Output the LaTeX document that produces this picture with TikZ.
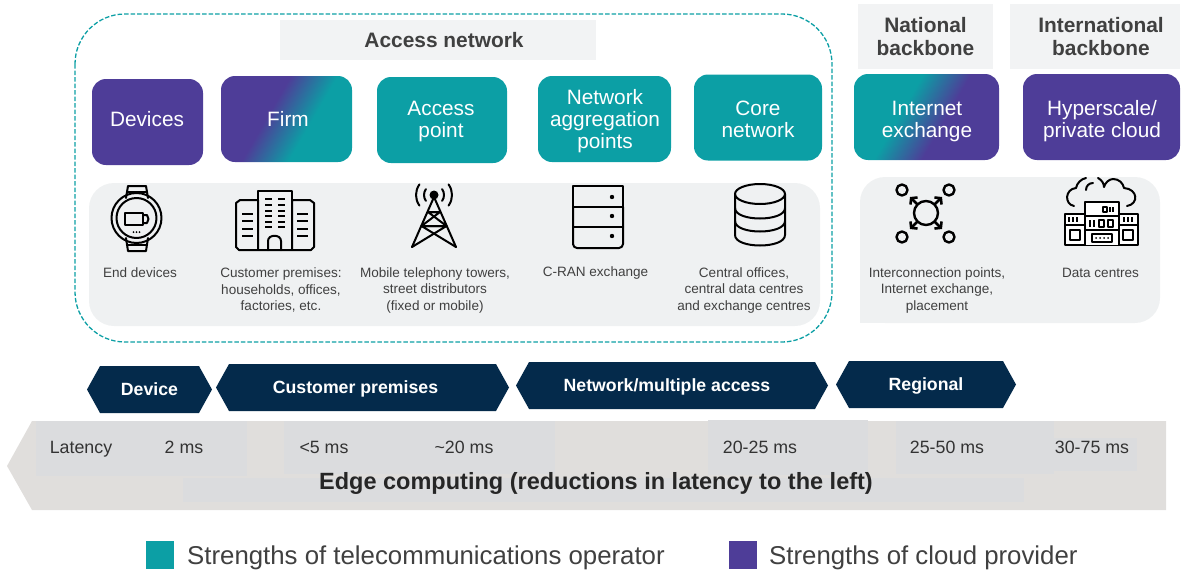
\documentclass[tikz,border=0pt]{standalone}
\usepackage{fontspec}
\setmainfont{Liberation Sans}
\usetikzlibrary{shapes.symbols,arrows.meta}

\definecolor{cloudpurple}{HTML}{4E3D98}
\definecolor{telcoteal}{HTML}{0C9FA5}
\definecolor{chevronnavy}{HTML}{042A4B}
\definecolor{panelgrey}{HTML}{EFF1F2}
\definecolor{titlegrey}{HTML}{F2F3F4}
\definecolor{bandgrey}{HTML}{E0DEDC}
\definecolor{patchgrey}{HTML}{DBDCDE}
\definecolor{labelgrey}{HTML}{404040}

\pgfdeclarehorizontalshading{firmshade}{100bp}{color(0bp)=(cloudpurple); color(42bp)=(cloudpurple); color(60bp)=(telcoteal); color(100bp)=(telcoteal)}
\pgfdeclarehorizontalshading{exchangeshade}{100bp}{color(0bp)=(telcoteal); color(40bp)=(telcoteal); color(57bp)=(cloudpurple); color(100bp)=(cloudpurple)}

\tikzset{
  stagebox/.style={rounded corners=14pt, inner sep=0pt, minimum height=86},
  stagetext/.style={text=white, align=center, font=\fontsize{20.8}{22}\selectfont},
  titlebox/.style={fill=titlegrey, inner sep=0pt, align=center, text=labelgrey, font=\bfseries\fontsize{20.9}{23}\selectfont},
  smalltext/.style={align=center, text=labelgrey, font=\fontsize{13.55}{16.5}\selectfont},
  latencytext/.style={anchor=base, text=black!80, font=\fontsize{17.8}{19}\selectfont},
  legendtext/.style={text=labelgrey, anchor=west, inner sep=0pt, font=\fontsize{25.8}{28}\selectfont},
  chevron/.style={signal, signal to=east and west, signal pointer angle=122, fill=chevronnavy, text=white, inner sep=0pt, minimum height=47, text height=14pt, text depth=2pt, font=\bfseries\fontsize{17.7}{19}\selectfont},
  icon/.style={draw=black, line width=2pt, line join=round, line cap=round},
  thinicon/.style={draw=black, line width=1.5pt, line join=round}
}

\begin{document}
\begin{tikzpicture}[x=1pt,y=-1pt]
\useasboundingbox (0,0) rectangle (1184,573);

\path[fill=panelgrey, rounded corners=25pt] (89,183) rectangle (820,326);
\path[fill=panelgrey, rounded corners=25pt] (860,323) -- (860,177) -- (1160,177) -- (1160,323) -- cycle;
\path[fill=panelgrey] (860,298) rectangle (890,323);
\draw[telcoteal, line width=1.3pt, dash pattern=on 4.5pt off 2pt, rounded corners=50pt] (75,14) rectangle (832,342);

\path (438,40) node[titlebox, minimum width=316, minimum height=40] (accesstitle) {\hspace*{12pt}Access network}
      (925.5,36.5) node[titlebox, minimum width=135, minimum height=65] (nationaltitle) {National\\backbone}
      (1095,36.5) node[titlebox, minimum width=170, minimum height=65] (internationaltitle) {\hspace*{12pt}International\\\hspace*{12pt}backbone}

      (147.5,122) node[stagebox, fill=cloudpurple, minimum width=111] (devices) {}
      (286.5,119) node[stagebox, shading=firmshade, shading angle=-30, minimum width=131] (firm) {}
      (442,120) node[stagebox, fill=telcoteal, minimum width=130] (accesspoint) {}
      (604.5,119) node[stagebox, fill=telcoteal, minimum width=133] (aggregation) {}
      (758,117.5) node[stagebox, fill=telcoteal, minimum width=128] (corenet) {}
      (926.5,117) node[stagebox, shading=exchangeshade, shading angle=-30, minimum width=145] (exchange) {}
      (1101.5,117) node[stagebox, fill=cloudpurple, minimum width=157] (cloudbox) {}

      (147,119) node[stagetext] (deviceslabel) {Devices}
      (288,119) node[stagetext] (firmlabel) {Firm}
      (441,122) node[stagetext] (accesspointlabel) {Access\\point}
      (605,121) node[stagetext] (aggregationlabel) {Network\\aggregation\\points}
      (758,119.5) node[stagetext] (corenetlabel) {Core\\network}
      (927,122) node[stagetext] (exchangelabel) {Internet\\exchange}
      (1102,121) node[stagetext] (cloudboxlabel) {Hyperscale/\\private cloud}

      (140,273) node[smalltext] (enddevices) {End devices}
      (281,290) node[smalltext] (premises) {Customer premises:\\households, offices,\\factories, etc.}
      (435,290) node[smalltext] (towers) {Mobile telephony towers,\\street distributors\\(fixed or mobile)}
      (595.5,273) node[smalltext] (cran) {C-RAN exchange}
      (744,290) node[smalltext] (offices) {Central offices,\\central data centres\\and exchange centres}
      (937,290) node[smalltext] (interconnect) {Interconnection points,\\Internet exchange,\\placement}
      (1100.5,273) node[smalltext] (datacentres) {Data centres};

\path (149.5,389.5) node[chevron, minimum width=125] (device) {Device}
      (362.5,387.5) node[chevron, minimum width=293] (customer) {Customer premises\hspace*{14pt}}
      (672,385.5) node[chevron, minimum width=312] (multiaccess) {Network/multiple access\hspace*{10pt}}
      (926,384.5) node[chevron, minimum width=180] (regional) {Regional};

\fill[bandgrey] (7,466) -- (32,421) -- (1166,421) -- (1166,510) -- (32,510) -- cycle;
\fill[patchgrey] (36,421) rectangle (247,476);
\fill[patchgrey] (284,421) rectangle (555,474);
\fill[patchgrey] (708,420) rectangle (868,475);
\fill[patchgrey] (896,421) rectangle (1054,474);
\fill[patchgrey] (1054,438) rectangle (1137,471);
\fill[patchgrey] (183,478) rectangle (1024,502);

\path (81,453) node[latencytext] (latency) {Latency}
      (184,453) node[latencytext] (twoms) {2 ms}
      (324,453) node[latencytext] (fivems) {<5 ms}
      (464,453) node[latencytext] (twentyms) {\char`\~20 ms}
      (760,453) node[latencytext] (accessms) {20-25 ms}
      (947,453) node[latencytext] (regionalms) {25-50 ms}
      (1092,453) node[latencytext] (backbonems) {30-75 ms}
      (596,483.5) node[font=\bfseries\fontsize{23.5}{25}\selectfont, text=black!85] (edge) {Edge computing (reductions in latency to the left)};

\path (160,555) node[fill=telcoteal, minimum width=28, minimum height=28, inner sep=0pt] (telcokey) {}
      (743,555) node[fill=cloudpurple, minimum width=28, minimum height=28, inner sep=0pt] (cloudkey) {}
      (187,558) node[legendtext] (telcotext) {Strengths of telecommunications operator}
      (769,558) node[legendtext] (cloudtext) {Strengths of cloud provider};

\draw[icon] (136.5,218) circle (25);
\draw[icon] (136.5,218) circle (20);
\draw[icon] (126,198) -- (128,186) -- (146,186) -- (148,198);
\draw[thinicon] (126,192) -- (148,192);
\draw[icon] (126,238) -- (128,251) -- (146,251) -- (148,238);
\draw[thinicon] (126,245) -- (148,245);
\draw[icon] (125,213) rectangle (143,225);
\draw[icon] (143,215) -- (147,215) -- (148.5,219) -- (147,223) -- (143,223);
\foreach \x in {133.5,136.5,139.5} \fill (\x,232) circle (1);

\draw[icon] (258,250) -- (258,200) -- (240,200) -- (236,203) -- (236,247) -- (239,250) -- (311,250) -- (314,247) -- (314,203) -- (310,200) -- (292,200) -- (292,250);
\draw[icon] (258,200) -- (258,191) -- (292,191) -- (292,200);
\draw[icon] (268,250) -- (268,241) .. controls (268,234) and (281,234) .. (281,241) -- (281,250);
\foreach \y in {199,205,211,216,222,227} {
  \draw[line width=2pt] (265,\y) -- (272,\y);
  \draw[line width=2pt] (278,\y) -- (285,\y);
}
\foreach \y in {214,221,229,236} {
  \draw[line width=2pt] (242,\y) -- (253,\y);
  \draw[line width=2pt] (297,\y) -- (308,\y);
}

\fill (434,195) circle (4.5);
\foreach \r in {10,18} {
  \draw[icon] ([shift={(-36:\r)}]434,195) arc[start angle=-36, end angle=36, radius=\r];
  \draw[icon] ([shift={(144:\r)}]434,195) arc[start angle=144, end angle=216, radius=\r];
}
\draw[icon] (412,247) -- (434,197) -- (456,247);
\draw[icon] (428,212) -- (440,212) -- (421.5,226) -- (446.5,226) -- (412,247);
\draw[icon] (440,212) -- (428,212) -- (446.5,226) -- (421.5,226) -- (456,247);

\draw[icon, rounded corners=4pt] (573,207) -- (573,248) -- (623,248) -- (623,207);
\draw[icon] (573,207) -- (573,186) -- (623,186) -- (623,207) -- cycle;
\draw[icon] (573,227) -- (623,227);
\foreach \y in {197,216,236} \fill (612,\y) circle (2.2);

\draw[icon] (760,194) ellipse (25 and 10);
\draw[icon] (735,194) -- (735,235) .. controls (735,249) and (785,249) .. (785,235) -- (785,194);
\draw[icon] (735,208) .. controls (735,222) and (785,222) .. (785,208);
\draw[icon] (735,221) .. controls (735,235) and (785,235) .. (785,221);

\draw[icon, line width=2.4pt] (926,213) circle (12);
\foreach \x/\y/\a/\b/\c/\d in {902/190/917/204/910/197, 949/190/935/204/942/197, 902/237/917/222/910/229, 949/237/935/222/942/229} {
  \draw[icon, line width=2.4pt] (\x,\y) circle (5.5);
  \draw[icon, line width=2.6pt, -{Straight Barb[length=4pt, width=10pt]}] (\a,\b) -- (\c,\d);
}

\draw[icon] (1074,206) .. controls (1064,204) and (1065,189) .. (1076,188) .. controls (1077,183) and (1081,179) .. (1086,178);
\draw[icon] (1086,190) .. controls (1086,186) and (1089,183) .. (1093,183);
\draw[icon] (1098,178) .. controls (1102,180) and (1104,184) .. (1104,187) .. controls (1105,183) and (1109,179) .. (1113,179) .. controls (1119,179) and (1123,183) .. (1124,188) .. controls (1138,189) and (1139,204) .. (1127,206);
\draw[icon, fill=white] (1065,214) rectangle (1138,245);
\draw[icon, fill=white] (1085,245) -- (1085,202) -- (1119,202) -- (1119,245);
\draw[thinicon] (1085,216) -- (1119,216);
\draw[thinicon] (1085,230) -- (1119,230);
\draw[thinicon] (1065,225) -- (1085,225);
\draw[thinicon] (1119,225) -- (1138,225);
\draw[thinicon] (1103,207) rectangle (1107,212);
\foreach \x in {1110,1113} \draw[line width=1.4pt] (\x,207) -- (\x,212);
\foreach \x in {1069,1073,1077,1124,1128,1132} \draw[line width=1.4pt] (\x,217) -- (\x,222);
\foreach \x in {1090,1094} \draw[line width=1.4pt] (\x,220) -- (\x,227);
\draw[thinicon] (1099,220) rectangle (1104,227);
\draw[thinicon] (1108,220) rectangle (1113,227);
\draw[thinicon] (1070,230) rectangle (1080,240);
\draw[thinicon] (1123,230) rectangle (1133,240);
\draw[thinicon] (1092,234) rectangle (1112,242);
\foreach \x in {1096,1100,1104,1108} \fill (\x,238) circle (1);
\end{tikzpicture}
\end{document}
